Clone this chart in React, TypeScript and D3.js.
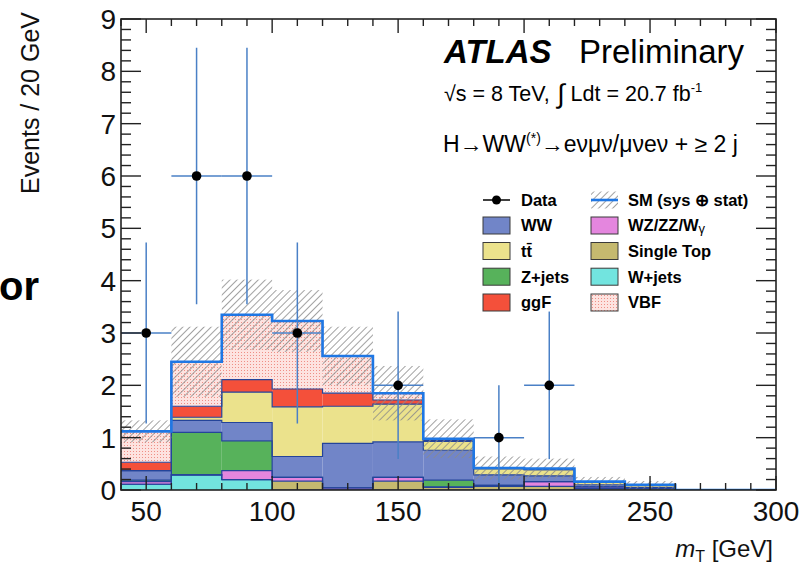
import React from 'react';
import * as d3 from 'd3';

// m_T bin edges [GeV]
const binEdges = [40, 60, 80, 100, 120, 140, 160, 180, 200, 220, 240, 260, 280, 300];

// Expected events per bin, stacked bottom to top
const wJets = [0.11, 0.29, 0.2, 0, 0, 0, 0, 0, 0, 0, 0, 0, 0];
const singleTop = [0, 0, 0, 0.17, 0, 0.17, 0.05, 0.07, 0.07, 0.03, 0.03, 0, 0];
const wzZZWg = [0.05, 0, 0.17, 0.07, 0.04, 0.07, 0.01, 0.02, 0.09, 0.03, 0, 0, 0];
const zJets = [0.03, 0.81, 0.57, 0, 0, 0, 0.13, 0, 0, 0, 0, 0, 0];
const ww = [0.18, 0.23, 0.35, 0.4, 0.85, 0.68, 0.57, 0.2, 0.11, 0.04, 0.02, 0, 0];
const ttbar = [0, 0.06, 0.58, 0.95, 0.71, 0.72, 0.17, 0.12, 0.12, 0.06, 0.05, 0, 0];
const ggF = [0.16, 0.21, 0.24, 0.34, 0.25, 0.08, 0.02, 0, 0, 0, 0, 0, 0];
const vbf = [0.59, 0.85, 1.24, 1.3, 0.71, 0.13, 0.03, 0.01, 0.02, 0, 0, 0, 0];

// SM uncertainty (sys ⊕ stat), half-width of the band
const smErr = [0.21, 0.67, 0.67, 0.59, 0.56, 0.52, 0.37, 0.22, 0.19, 0.09, 0.07, 0, 0];

// Observed data and its statistical error
const dataCounts = [3, 6, 6, 3, 0, 2, 0, 1, 2, 0, 0, 0, 0];
const dataErr = [1.73, 2.45, 2.45, 1.73, 0, 1.41, 0, 1, 1.41, 0, 0, 0, 0];

const xTickLabels = [50, 100, 150, 200, 250, 300];
const yTickLabels = [0, 1, 2, 3, 4, 5, 6, 7, 8, 9];

const layers = [
  { name: 'W+jets', values: wJets, fill: '#72e4df' },
  { name: 'Single Top', values: singleTop, fill: '#c5b96f' },
  { name: 'WZ/ZZ/Wγ', values: wzZZWg, fill: '#e486de' },
  { name: 'Z+jets', values: zJets, fill: '#57b25b' },
  { name: 'WW', values: ww, fill: '#7185c8' },
  { name: 'tt', values: ttbar, fill: '#ebe28c' },
  { name: 'ggF', values: ggF, fill: '#f4503a' },
  { name: 'VBF', values: vbf, fill: 'url(#vbfDots)' },
];

const W = 799;
const H = 566;
const FONT = "'Liberation Sans', Arial, Helvetica, sans-serif";

const x = d3.scaleLinear().domain([40, 300]).range([121, 776]);
const y = d3.scaleLinear().domain([0, 9]).range([490, 19]);

const nBins = binEdges.length - 1;

function stepPath(tops: number[]): string {
  const pts: [number, number][] = [];
  for (let i = 0; i < nBins; i++) {
    pts.push([x(binEdges[i]), y(tops[i])]);
    pts.push([x(binEdges[i + 1]), y(tops[i])]);
  }
  return d3.line()(pts) || '';
}

export default function App() {
  // cumulative stack
  const cum: number[][] = [];
  let base = new Array(nBins).fill(0);
  layers.forEach((l) => {
    const top = base.map((b, i) => b + l.values[i]);
    cum.push(top);
    base = top;
  });
  const total = base;

  const [px0, px1] = x.range();
  const [py0, py1] = y.range();

  const xMinor = d3.range(40, 301, 10);
  const yMinor = d3.range(0, 9.001, 0.2);

  const legendLeft = [
    { label: 'WW', fill: '#7185c8' },
    { label: 'tt', fill: '#ebe28c' },
    { label: 'Z+jets', fill: '#57b25b' },
    { label: 'ggF', fill: '#f4503a' },
  ];
  const legendRight = [
    { label: 'WZ/ZZ/Wγ', fill: '#e486de' },
    { label: 'Single Top', fill: '#c5b96f' },
    { label: 'W+jets', fill: '#72e4df' },
    { label: 'VBF', fill: 'url(#vbfDots)' },
  ];
  const rowY = [200, 225.5, 251, 276.7, 302.5];
  const lx = 483;
  const rx = 591;
  const boxW = 27;
  const boxH = 17;

  const renderLabel = (label: string) => {
    if (label === 'tt') return 'tt\u0304';
    if (label === 'WZ/ZZ/Wγ') {
      return (
        <>
          WZ/ZZ/W
          <tspan fontSize={13} fontWeight="normal" dy={2}>γ</tspan>
        </>
      );
    }
    return label;
  };

  return (
    <svg
      width={W}
      height={H}
      style={{ position: 'absolute', left: 0, top: 0, background: '#fff' }}
      fontFamily={FONT}
    >
      <defs>
        <pattern id="vbfDots" width={3} height={3} patternUnits="userSpaceOnUse">
          <rect width={3} height={3} fill="#fde3e0" />
          <rect x={1} y={1} width={1} height={1} fill="#ef8f86" />
        </pattern>
        <pattern
          id="hatch"
          width={5}
          height={5}
          patternUnits="userSpaceOnUse"
          patternTransform="rotate(45)"
        >
          <line x1={0} y1={0} x2={0} y2={5} stroke="#8a8a8a" strokeWidth={1.6} />
        </pattern>
        <clipPath id="plotClip">
          <rect x={px0} y={py1} width={px1 - px0} height={py0 - py1} />
        </clipPath>
      </defs>

      <rect width={W} height={H} fill="#fff" />

      {/* stacked backgrounds and signals */}
      <g clipPath="url(#plotClip)">
        {layers.map((l, k) => (
          <g key={l.name}>
            {l.values.map((v, i) =>
              v > 0 ? (
                <rect
                  key={i}
                  x={x(binEdges[i])}
                  width={x(binEdges[i + 1]) - x(binEdges[i])}
                  y={y(cum[k][i])}
                  height={y(cum[k][i] - v) - y(cum[k][i])}
                  fill={l.fill}
                />
              ) : null
            )}
          </g>
        ))}
        {layers.map((l, k) => (
          <path
            key={'o' + l.name}
            d={stepPath(cum[k])}
            fill="none"
            stroke="#24449a"
            strokeWidth={1.2}
          />
        ))}

        {/* SM uncertainty band */}
        {total.map((t, i) =>
          smErr[i] > 0 ? (
            <rect
              key={'h' + i}
              x={x(binEdges[i])}
              width={x(binEdges[i + 1]) - x(binEdges[i])}
              y={y(t + smErr[i])}
              height={y(Math.max(0, t - smErr[i])) - y(t + smErr[i])}
              fill="url(#hatch)"
            />
          ) : null
        )}

        {/* SM total */}
        <path d={stepPath(total)} fill="none" stroke="#1f77e4" strokeWidth={2.6} />

        {/* data */}
        {dataCounts.map((n, i) => {
          if (n <= 0) return null;
          const cx = x((binEdges[i] + binEdges[i + 1]) / 2);
          return (
            <g key={'d' + i}>
              <line
                x1={cx}
                x2={cx}
                y1={y(n - dataErr[i])}
                y2={y(n + dataErr[i])}
                stroke="#4a80c6"
                strokeWidth={1.5}
              />
              <line
                x1={x(binEdges[i])}
                x2={x(binEdges[i + 1])}
                y1={y(n)}
                y2={y(n)}
                stroke="#4a80c6"
                strokeWidth={1.5}
              />
              <circle cx={cx} cy={y(n)} r={4.8} fill="#000" />
            </g>
          );
        })}
      </g>

      {/* frame */}
      <rect
        x={px0}
        y={py1}
        width={px1 - px0}
        height={py0 - py1}
        fill="none"
        stroke="#222"
        strokeWidth={1.6}
      />

      {/* x ticks (bottom and top) */}
      {xMinor.map((v) => {
        const major = v % 50 === 0;
        const len = major ? 14 : 7;
        return (
          <g key={'xt' + v} stroke="#222" strokeWidth={1.4}>
            <line x1={x(v)} x2={x(v)} y1={py0} y2={py0 - len} />
            <line x1={x(v)} x2={x(v)} y1={py1} y2={py1 + len} />
          </g>
        );
      })}
      {/* y ticks (left and right) */}
      {yMinor.map((v, j) => {
        const major = j % 5 === 0;
        const len = major ? 20 : 10;
        return (
          <g key={'yt' + j} stroke="#222" strokeWidth={1.4}>
            <line x1={px0} x2={px0 + len} y1={y(v)} y2={y(v)} />
            <line x1={px1} x2={px1 - len} y1={y(v)} y2={y(v)} />
          </g>
        );
      })}

      {/* tick labels */}
      {xTickLabels.map((v) => (
        <text key={'xl' + v} x={x(v)} y={521} textAnchor="middle" fontSize={28} fill="#111">
          {v}
        </text>
      ))}
      {yTickLabels.map((v) => (
        <text
          key={'yl' + v}
          x={116}
          y={y(v)}
          dy="0.36em"
          textAnchor="end"
          fontSize={28}
          fill="#111"
        >
          {v}
        </text>
      ))}

      {/* axis titles */}
      <text
        transform="translate(39,12) rotate(-90)"
        textAnchor="end"
        fontSize={25}
        fill="#111"
      >
        Events / 20 GeV
      </text>
      <text x={773} y={557} textAnchor="end" fontSize={24} fill="#111">
        <tspan fontStyle="italic">m</tspan>
        <tspan fontSize={16} dy={5}>T</tspan>
        <tspan dy={-5}> [GeV]</tspan>
      </text>

      <text x={-1} y={300} fontSize={40} fontWeight="bold" fill="#000">
        or
      </text>

      {/* labels */}
      <text x={444} y={63} fontSize={33} fontWeight="bold" fontStyle="italic" fill="#000">
        ATLAS
      </text>
      <text x={579} y={63} fontSize={33} fill="#000">
        Preliminary
      </text>
      <text x={444} y={101} fontSize={21.5} fill="#000">
        √s = 8 TeV,
        <tspan fontSize={27} dy={2}> ∫</tspan>
        <tspan dy={-2}> Ldt = 20.7 fb</tspan>
        <tspan fontSize={13} dy={-9}>-1</tspan>
      </text>
      <text x={443} y={152} fontSize={23} fill="#000">
        H→WW
        <tspan fontSize={14} dy={-9}>(*)</tspan>
        <tspan dy={9}>→eνμν/μνeν + ≥ 2 j</tspan>
      </text>

      {/* legend */}
      <g fontSize={16.5} fontWeight="bold" fill="#000">
        <line x1={lx} x2={lx + boxW} y1={rowY[0]} y2={rowY[0]} stroke="#000" strokeWidth={1.5} />
        <circle cx={lx + boxW / 2} cy={rowY[0]} r={4.5} fill="#000" />
        <text x={521} y={rowY[0]} dy="0.36em">
          Data
        </text>

        <rect x={rx} y={rowY[0] - boxH / 2} width={boxW} height={boxH} fill="url(#hatch)" />
        <line x1={rx} x2={rx + boxW} y1={rowY[0]} y2={rowY[0]} stroke="#1f77e4" strokeWidth={2.6} />
        <text x={628} y={rowY[0]} dy="0.36em">
          SM (sys ⊕ stat)
        </text>

        {legendLeft.map((e, i) => (
          <g key={'ll' + e.label}>
            <rect
              x={lx}
              y={rowY[i + 1] - boxH / 2}
              width={boxW}
              height={boxH}
              fill={e.fill}
              stroke="#3a3a3a"
              strokeWidth={1}
            />
            <text x={521} y={rowY[i + 1]} dy="0.36em">
              {renderLabel(e.label)}
            </text>
          </g>
        ))}
        {legendRight.map((e, i) => (
          <g key={'lr' + e.label}>
            <rect
              x={rx}
              y={rowY[i + 1] - boxH / 2}
              width={boxW}
              height={boxH}
              fill={e.fill}
              stroke="#3a3a3a"
              strokeWidth={1}
            />
            <text x={628} y={rowY[i + 1]} dy="0.36em">
              {renderLabel(e.label)}
            </text>
          </g>
        ))}
      </g>
    </svg>
  );
}
